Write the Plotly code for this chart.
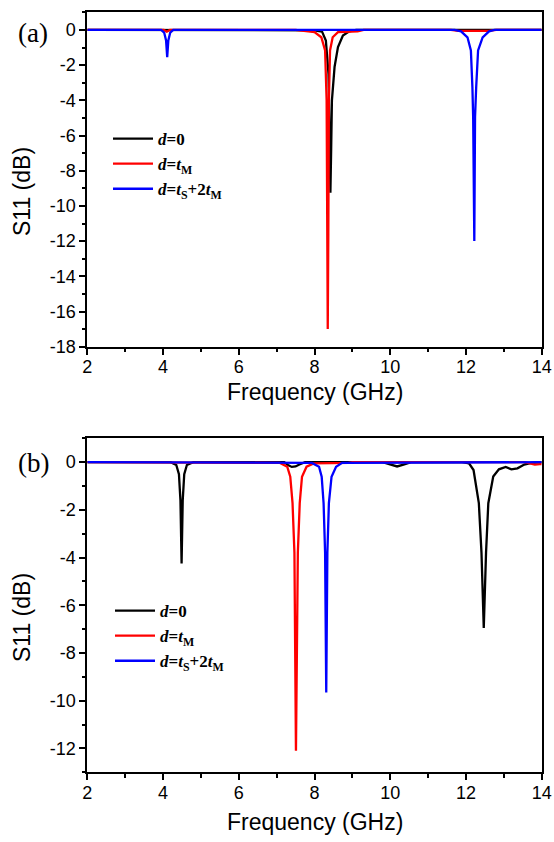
import plotly.graph_objects as go

# ---------------- data: panel (a) ----------------
a_black_f = [2, 8.0, 8.2, 8.3, 8.37, 8.40, 8.42, 8.44, 8.46, 8.53, 8.62, 8.75, 8.92, 9.1, 14]
a_black_v = [0, -0.02, -0.1, -0.6, -2.5, -6.5, -9.25, -6.8, -4.0, -2.1, -0.98, -0.32, -0.08, 0, 0]

a_red_f = [2, 4.02, 4.1, 4.18, 7.5, 7.65, 8.0, 8.18, 8.28, 8.32, 8.335, 8.35, 8.365, 8.38,
           8.41, 8.48, 8.62, 9.14, 9.3, 11.6, 11.8, 12.6, 12.8, 14]
a_red_v = [0, 0, -0.1, 0, 0, -0.04, -0.13, -0.42, -1.17, -4.0, -11.6, -17.0, -11.6, -4.0,
           -1.17, -0.42, -0.13, -0.08, 0, 0, -0.05, -0.05, 0, 0]

a_blue_f = [2, 3.95, 4.03, 4.08, 4.11, 4.14, 4.19, 4.27, 11.7, 11.87, 12.04, 12.13, 12.17,
            12.19, 12.22, 12.24, 12.27, 12.32, 12.44, 12.61, 12.75, 14]
a_blue_v = [0, 0, -0.15, -0.6, -1.55, -0.6, -0.15, 0, 0, -0.08, -0.42, -1.17, -3.25,
            -4.95, -12.0, -4.95, -3.25, -1.17, -0.42, -0.08, 0, 0]

# ---------------- data: panel (b) ----------------
b_black_f = [2, 4.2, 4.35, 4.42, 4.46, 4.49, 4.52, 4.56, 4.63, 4.8,
             7.2, 7.3, 7.4, 7.5, 7.6, 7.75,
             9.8, 10.0, 10.18, 10.35, 10.55,
             11.9, 12.08, 12.2, 12.34, 12.41, 12.47, 12.53, 12.59, 12.72, 12.87,
             13.05, 13.2, 13.36, 13.54, 13.73, 14]
b_black_v = [0, 0, -0.12, -0.5, -1.6, -4.25, -1.6, -0.5, -0.12, 0,
             0, -0.12, -0.2, -0.18, -0.1, 0,
             0, -0.1, -0.18, -0.1, 0,
             0, -0.05, -0.33, -1.72, -3.8, -6.95, -3.8, -1.72, -0.6, -0.3,
             -0.2, -0.3, -0.26, -0.1, -0.03, 0]

b_red_f = [2, 7.0, 7.09, 7.28, 7.36, 7.42, 7.47, 7.51, 7.56, 7.61, 7.67, 7.79, 7.98,
           8.9, 9.0, 13.55, 13.7, 13.82, 13.95, 14]
b_red_v = [0, 0, -0.03, -0.19, -0.61, -1.72, -3.8, -12.1, -3.8, -1.72, -0.61, -0.19,
           -0.05, -0.03, 0, 0, -0.06, -0.1, -0.08, -0.08]

b_blue_f = [2, 7.93, 8.12, 8.19, 8.24, 8.28, 8.31, 8.34, 8.38, 8.45, 8.57, 8.73, 14]
b_blue_v = [0, -0.03, -0.19, -0.61, -1.72, -3.8, -9.65, -3.8, -1.72, -0.61, -0.19, -0.03, 0]

# ---------------- labels / ticks ----------------
series_names = ["<b><i>d</i>=0</b>",
                "<b><i>d</i>=<i>t</i><sub>M</sub></b>",
                "<b><i>d</i>=<i>t</i><sub>S</sub>+2<i>t</i><sub>M</sub></b>"]
series_colors = ["#000000", "#FF0000", "#0000FF"]
x_tick_vals = [2, 4, 6, 8, 10, 12, 14]
x_tick_text = ["2", "4", "6", "8", "10", "12", "14"]
y_tick_vals_a = [0, -2, -4, -6, -8, -10, -12, -14, -16, -18]
y_tick_text_a = ["0", "-2", "-4", "-6", "-8", "-10", "-12", "-14", "-16", "-18"]
y_tick_vals_b = [0, -2, -4, -6, -8, -10, -12]
y_tick_text_b = ["0", "-2", "-4", "-6", "-8", "-10", "-12"]
x_title = "Frequency (GHz)"
y_title = "S11 (dB)"
panel_labels = ["(a)", "(b)"]

W, H = 554, 842


def px(x):
    return x / W


def py(y):
    return 1 - y / H


fig = go.Figure()

panel_a = [(a_black_f, a_black_v), (a_red_f, a_red_v), (a_blue_f, a_blue_v)]
panel_b = [(b_black_f, b_black_v), (b_red_f, b_red_v), (b_blue_f, b_blue_v)]

for i, (f, v) in enumerate(panel_a):
    fig.add_trace(go.Scatter(x=f, y=v, mode="lines", name=series_names[i],
                             line=dict(color=series_colors[i], width=2.3),
                             xaxis="x", yaxis="y", legend="legend"))
for i, (f, v) in enumerate(panel_b):
    fig.add_trace(go.Scatter(x=f, y=v, mode="lines", name=series_names[i],
                             line=dict(color=series_colors[i], width=2.3),
                             xaxis="x2", yaxis="y2", legend="legend2"))

xdom = [px(87.3), px(541.7)]
ya_dom = [py(346.7), py(12.3)]
yb_dom = [py(772.3), py(438.3)]

tickfont = dict(family="Liberation Sans, Arial, sans-serif", size=18, color="#000")
titlefont = dict(family="Liberation Sans, Arial, sans-serif", size=23, color="#000")
serif = "Liberation Serif, Times New Roman, serif"


def xaxis_cfg(anchor):
    return dict(domain=xdom, anchor=anchor, range=[2, 14], tickmode="array",
                tickvals=x_tick_vals, ticktext=x_tick_text, ticks="outside", ticklen=6,
                tickwidth=1.5, tickcolor="#000", showline=True, linewidth=2, linecolor="#000",
                mirror=True, showgrid=False, zeroline=False, tickfont=tickfont,
                ticklabelstandoff=-3,
                minor=dict(ticks="outside", ticklen=3.5, tickwidth=1.5, tickcolor="#000",
                           dtick=1, tick0=2, showgrid=False),
                automargin=False)


def yaxis_cfg(anchor, dom, rng, tv, tt):
    return dict(domain=dom, anchor=anchor, range=rng, tickmode="array", tickvals=tv,
                ticktext=tt, ticks="outside", ticklen=6, tickwidth=1.5, tickcolor="#000",
                showline=True, linewidth=2, linecolor="#000", mirror=True, showgrid=False,
                zeroline=False, tickfont=tickfont,
                minor=dict(ticks="outside", ticklen=3.5, tickwidth=1.5, tickcolor="#000",
                           dtick=1, tick0=0, showgrid=False),
                automargin=False)


legfont = dict(family=serif, size=17, color="#000")

annotations = []
for lab, ly in zip(panel_labels, [33, 463]):
    annotations.append(dict(text=lab, x=px(33), y=py(ly), xref="paper", yref="paper",
                            showarrow=False, xanchor="center", yanchor="middle",
                            font=dict(family=serif, size=27, color="#000")))
for ty in [392, 822]:
    annotations.append(dict(text=x_title, x=px(314.5), y=py(ty), xref="paper", yref="paper",
                            showarrow=False, xanchor="center", yanchor="middle", font=titlefont))
for ty in [192, 618]:
    annotations.append(dict(text=y_title, x=px(22), y=py(ty), xref="paper", yref="paper",
                            showarrow=False, xanchor="center", yanchor="middle",
                            textangle=-90, font=titlefont))

fig.update_layout(
    width=W, height=H,
    margin=dict(l=0, r=0, t=0, b=0),
    paper_bgcolor="white", plot_bgcolor="white",
    xaxis=xaxis_cfg("y"),
    yaxis=yaxis_cfg("x", ya_dom, [-18, 1], y_tick_vals_a, y_tick_text_a),
    xaxis2=xaxis_cfg("y2"),
    yaxis2=yaxis_cfg("x2", yb_dom, [-13, 1], y_tick_vals_b, y_tick_text_b),
    legend=dict(x=px(108), y=py(121), xanchor="left", yanchor="top", itemwidth=40,
                bgcolor="rgba(0,0,0,0)", font=legfont, tracegroupgap=0),
    legend2=dict(x=px(110), y=py(593), xanchor="left", yanchor="top", itemwidth=40,
                 bgcolor="rgba(0,0,0,0)", font=legfont, tracegroupgap=0),
    showlegend=True,
    annotations=annotations,
)

fig.write_html("out.html",
               config={"displayModeBar": False},
               post_script="document.body.style.margin='0';"
                           "document.body.style.overflow='hidden';")
